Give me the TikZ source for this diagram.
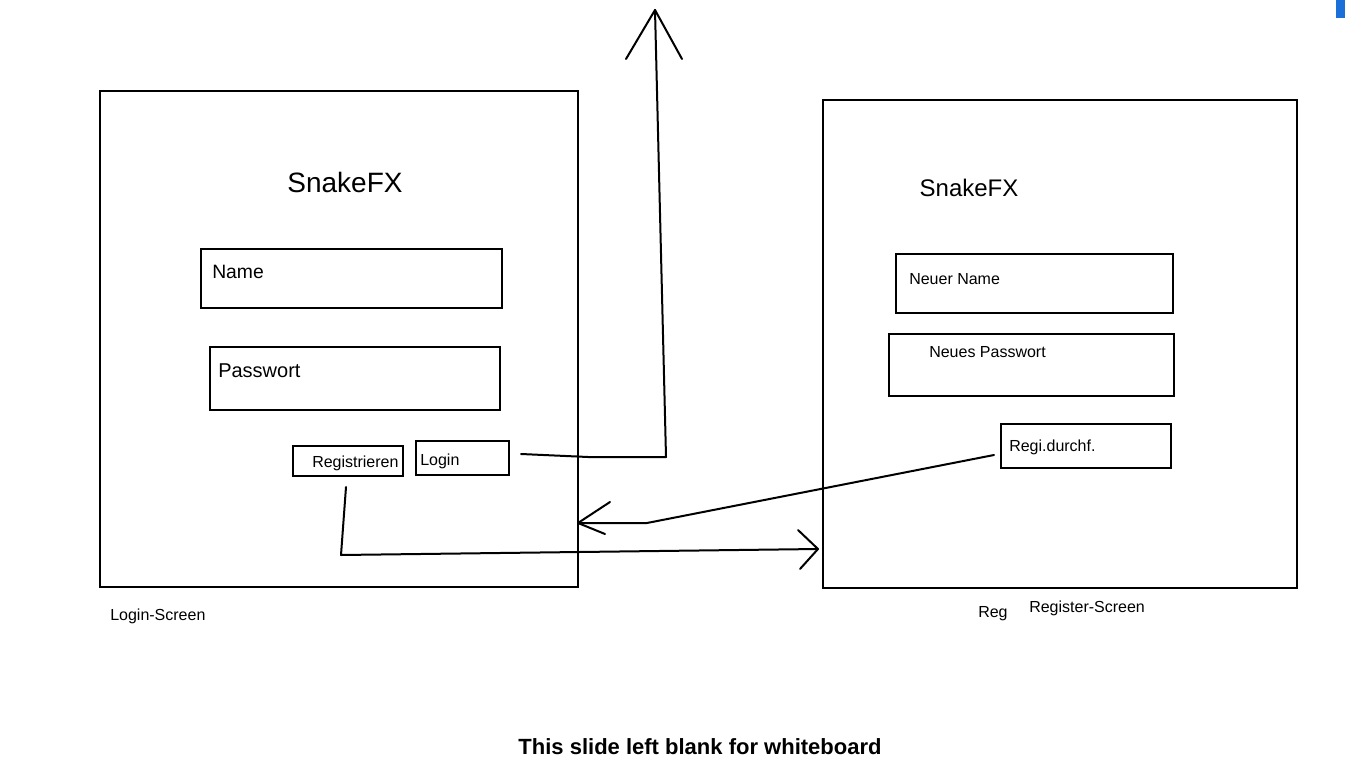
\documentclass[tikz,border=0pt]{standalone}
\usepackage{fontspec}
\setmainfont{Liberation Sans}
\usetikzlibrary{fit}
\begin{document}
\begin{tikzpicture}[x=0.75pt,y=-0.75pt,
  box/.style={draw=black,line width=1.5pt,inner sep=0pt,fit={#1}},
  lbl/.style={anchor=base west,inner sep=0pt,font=\fontsize{#1}{#1}\selectfont},
  link/.style={draw=black,line width=1.5pt,line join=round,line cap=round}]
\useasboundingbox[fill=white] (0,0) rectangle (1345,777);
\fill[fill={rgb,255:red,26;green,111;blue,216}] (1336,0) rectangle (1345,18);
% screens
\node[box={(100,91) (578,587)}] (login) {};
\node[box={(823,100) (1297,588)}] (reg) {};
% login screen content
\node[anchor=base,inner sep=0pt,font=\fontsize{21}{21}\selectfont] (t1) at (345,193) {SnakeFX};
\node[box={(201,249) (502,308)}] (name) {};
\node[lbl=14.5] (namet) at (212,278) {Name};
\node[box={(210,347) (500,410)}] (pw) {};
\node[lbl=15] (pwt) at (218,377) {Passwort};
\node[box={(293,446) (403,476)}] (regbtn) {};
\node[lbl=12] (regbtnt) at (312,467) {Registrieren};
\node[box={(416,441) (509,475)}] (logbtn) {};
\node[lbl=12] (logbtnt) at (420,465) {Login};
% register screen content
\node[anchor=base,inner sep=0pt,font=\fontsize{18}{18}\selectfont] (t2) at (969,197) {SnakeFX};
\node[box={(896,254) (1173,313)}] (nn) {};
\node[lbl=12] (nnt) at (909,284) {Neuer Name};
\node[box={(889,334) (1174,396)}] (np) {};
\node[lbl=12] (npt) at (929,357) {Neues Passwort};
\node[box={(1001,424) (1171,468)}] (rd) {};
\node[lbl=12] (rdt) at (1009,451) {Regi.durchf.};
% captions
\node[lbl=12] (c1) at (110,620) {Login-Screen};
\node[lbl=12] (c2) at (978,617) {Reg};
\node[lbl=12] (c3) at (1029,612) {Register-Screen};
\node[anchor=base,inner sep=0pt,font=\fontsize{16.5}{16.5}\selectfont\bfseries] (foot) at (700,754) {This slide left blank for whiteboard};
% connectors
\coordinate (up) at (655,10);
\coordinate (toreg) at (818,549);
\coordinate (tologin) at (578,523);
\draw[link] (logbtn.east)++(11,-4) -- (588,457) -- (666,457) -- (up);
\draw[link] (626,59) -- (up) -- (682,59);
\draw[link] (regbtn.south)++(-2,10) -- (341,555) -- (toreg);
\draw[link] (798,530) -- (toreg) -- (800,569);
\draw[link] (rd.west)++(-6,9) -- (647,523) -- (tologin);
\draw[link] (610,502) -- (tologin) -- (605,534);
\end{tikzpicture}
\end{document}
